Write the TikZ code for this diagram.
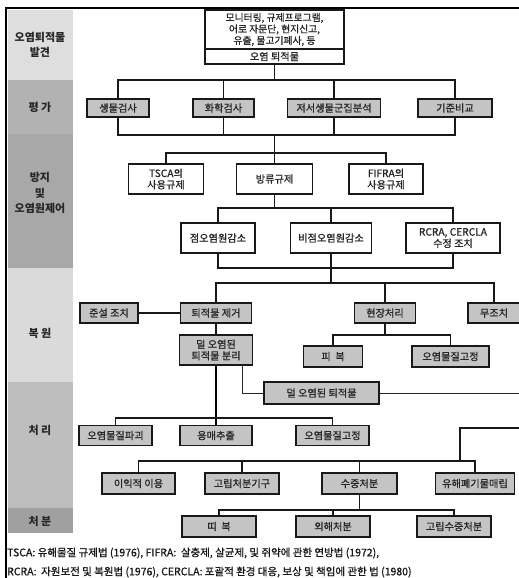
\documentclass[tikz,border=0pt]{standalone}
\usepackage{fontspec}
\setmainfont{Noto Sans CJK KR}
\newfontfamily\krmed{Noto Sans CJK KR}[FakeBold=0.9]
\usetikzlibrary{calc}
\definecolor{boxgray}{HTML}{C4C4C4}
\definecolor{bandA}{HTML}{DEDEDE}
\definecolor{bandB}{HTML}{B2B2B2}
\definecolor{bandC}{HTML}{A8A8A8}
\definecolor{bandD}{HTML}{DADADA}
\definecolor{bandE}{HTML}{BEBEBE}
\definecolor{bandF}{HTML}{A0A0A0}
\tikzset{
  gbox/.style={draw=black!90, line width=1.3pt, fill=boxgray, inner sep=0pt, align=center,
    font=\krmed\fontsize{10.2}{11.5}\selectfont, text=black!85},
  wbox/.style={gbox, fill=white},
  conn/.style={draw=black!90, line width=1.3pt},
  thinconn/.style={draw=black!85, line width=0.9pt},
  thickconn/.style={draw=black, line width=2pt},
  bandlbl/.style={align=center, font=\fontsize{11}{15.5}\selectfont\bfseries, text=black!85},
  foot/.style={anchor=west, inner sep=0pt, font=\krmed\fontsize{10.5}{12}\selectfont, text=black!90},
}
\begin{document}
\begin{tikzpicture}[x=1pt,y=-1pt]
\useasboundingbox (0,0) rectangle (519,578);
\clip (0,0) rectangle (519,578);
\fill[white] (0,0) rectangle (519,578);
% left bands
\fill[bandA] (8,10) rectangle (73,80);
\fill[bandB] (8,80) rectangle (73,134);
\fill[bandC] (8,134) rectangle (73,268);
\fill[bandD] (8,268) rectangle (73,382);
\fill[bandE] (8,382) rectangle (73,508);
\fill[bandF] (8,508) rectangle (73,533);
\node[bandlbl] (l1) at (40,45) {오염퇴적물\\발견};
\node[bandlbl] (l2) at (40,107) {평 가};
\node[bandlbl] (l3) at (40,193) {방지\\및\\오염원제어};
\node[bandlbl] (l4) at (40,333) {복 원};
\node[bandlbl] (l5) at (40,430) {처 리};
\node[bandlbl] (l6) at (40,521) {처 분};
% frame
\draw[line width=1.6pt] (6,578) -- (6,8) -- (519,8);
% top box
\node[wbox, minimum width=139pt, minimum height=39pt, font=\krmed\fontsize{9.8}{11.5}\selectfont] (top1) at (274.5,29.5)
  {모니터링, 규제프로그램,\\어로 자문단, 현지신고,\\유출, 물고기폐사, 등};
\node[wbox, minimum width=139pt, minimum height=15pt] (top2) at (274.5,56.5) {오염 퇴적물};
% assessment
\node[gbox, minimum width=62pt, minimum height=18pt] (bio) at (118,108) {생물검사};
\node[gbox, minimum width=61pt, minimum height=18pt] (chem) at (223.5,108) {화학검사};
\node[gbox, minimum width=93pt, minimum height=18pt] (benth) at (334,108) {저서생물군집분석};
\node[gbox, minimum width=74pt, minimum height=18pt] (crit) at (455,108) {기준비교};
\coordinate (b1) at (274.5,80);
\coordinate (b2) at (274.5,135);
\draw[conn] (top2.south) -- (b1);
\draw[conn] (bio.north) |- (b1) -| (crit.north);
\draw[conn] (chem.north) -- (chem.north |- b1);
\draw[conn] (benth.north) -- (benth.north |- b1);
\draw[conn] (bio.south) |- (b2) -| (crit.south);
\draw[conn] (chem.south) -- (chem.south |- b2);
\draw[conn] (benth.south) -- (benth.south |- b2);
% prevention row 1
\node[wbox, minimum width=75pt, minimum height=30pt] (tsca) at (166,179) {TSCA의\\사용규제};
\node[wbox, minimum width=76pt, minimum height=30pt] (bang) at (274.5,179) {방류규제};
\node[wbox, minimum width=74pt, minimum height=30pt] (fifra) at (386,179) {FIFRA의\\사용규제};
\coordinate (b3) at (274.5,153);
\draw[conn] (b2) -- (bang.north);
\draw[conn] (tsca.north) |- (b3) -| (fifra.north);
% prevention row 2
\node[wbox, minimum width=74pt, minimum height=30pt] (pt) at (218,238) {점오염원감소};
\node[wbox, minimum width=81pt, minimum height=30pt] (npt) at (331,238) {비점오염원감소};
\node[wbox, minimum width=94pt, minimum height=30pt] (rcra) at (453,238) {RCRA, CERCLA\\수정 조치};
\coordinate (b4) at (274.5,208);
\coordinate (b5) at (331,268);
\coordinate (b6) at (331,283);
\draw[conn] (bang.south) -- (b4);
\draw[conn] (pt.north) |- (b4) -| (rcra.north);
\draw[conn] (npt.north) -- (npt.north |- b4);
\draw[conn] (pt.south) |- (b5) -| (rcra.south);
\draw[conn] (npt.south) -- (b5) -- (b6);
% restoration
\node[gbox, minimum width=58pt, minimum height=20pt] (dredge) at (109,313) {준설 조치};
\node[gbox, minimum width=71pt, minimum height=20pt] (remove) at (216,313) {퇴적물 제거};
\node[gbox, minimum width=61pt, minimum height=20pt] (insitu) at (385,313) {현장처리};
\node[gbox, minimum width=52pt, minimum height=20pt] (none) at (494,313) {무조치};
\draw[conn] (remove.north) |- (b6) -| (none.north);
\draw[conn] (insitu.north) -- (insitu.north |- b6);
\draw[conn] (dredge.east) -- (remove.west);
\node[gbox, minimum width=73pt, minimum height=30pt] (sep) at (216,350) {덜 오염된\\퇴적물 분리};
\draw[conn] (remove.south) -- (sep.north);
\node[gbox, minimum width=59pt, minimum height=21pt] (cap1) at (333,356.5) {피\ \ 복};
\node[gbox, minimum width=77pt, minimum height=21pt] (fix1) at (450.5,356.5) {오염물질고정};
\coordinate (b7) at (385,335);
\draw[conn] (insitu.south) -- (b7);
\draw[conn] (cap1.north) |- (b7) -| (fix1.north);
\node[gbox, minimum width=115pt, minimum height=22pt] (less) at (321.5,393) {덜 오염된 퇴적물};
\coordinate (s1) at ($(sep.south)+(26,0)$);
\coordinate (e1) at (519,393);
\draw[thinconn] (s1) |- (less.west);
\draw[thinconn] (less.east) -- (e1);
% treatment
\node[gbox, minimum width=73pt, minimum height=20pt] (destroy) at (115.5,435.5) {오염물질파괴};
\node[gbox, minimum width=72pt, minimum height=20pt] (solv) at (216,435.5) {용매추출};
\node[gbox, minimum width=73pt, minimum height=20pt] (fix2) at (332.5,435.5) {오염물질고정};
\draw[thickconn] (sep.south) -- (solv.north);
\coordinate (b8) at (216,418);
\draw[conn] (destroy.north) |- (b8) -| (fix2.north);
\node[gbox, minimum width=73pt, minimum height=21pt] (benef) at (138.5,483.5) {이익적 이용};
\node[gbox, minimum width=74pt, minimum height=21pt] (isol) at (242,483.5) {고립처분기구};
\node[gbox, minimum width=75pt, minimum height=21pt] (sub) at (359.5,483.5) {수중처분};
\node[gbox, minimum width=79pt, minimum height=21pt] (haz) at (475,483.5) {유해폐기물매립};
\coordinate (b9) at (359.5,461);
\draw[conn] (benef.north) |- (b9) -| (haz.north);
\draw[conn] (isol.north) -- (isol.north |- b9);
\draw[conn] (sub.north) -- (b9);
\coordinate (j1) at (460,461);
\coordinate (e2) at (519,428);
\draw[conn] (j1) |- (e2);
% disposal
\node[gbox, minimum width=74pt, minimum height=21pt] (cap2) at (219,526.5) {띠\ \ 복};
\node[gbox, minimum width=74pt, minimum height=21pt] (ocean) at (333,526.5) {외해처분};
\node[gbox, minimum width=74pt, minimum height=21pt] (isosub) at (454,526.5) {고립수중처분};
\coordinate (b10) at (359.5,510);
\draw[conn] (sub.south) -- (b10);
\draw[conn] (cap2.north) |- (b10) -| (isosub.north);
\draw[conn] (ocean.north) -- (ocean.north |- b10);
% footnote
\node[foot] (f1) at (7,553) {TSCA: 유해물질 규제법 (1976), FIFRA:\ \ 살충제, 살균제, 및 쥐약에 관한 연방법 (1972),};
\node[foot] (f2) at (7,572) {RCRA:\ \ 자원보전 및 복원법 (1976), CERCLA: 포괄적 환경 대응, 보상 및 책임에 관한 법 (1980)};
\end{tikzpicture}
\end{document}
